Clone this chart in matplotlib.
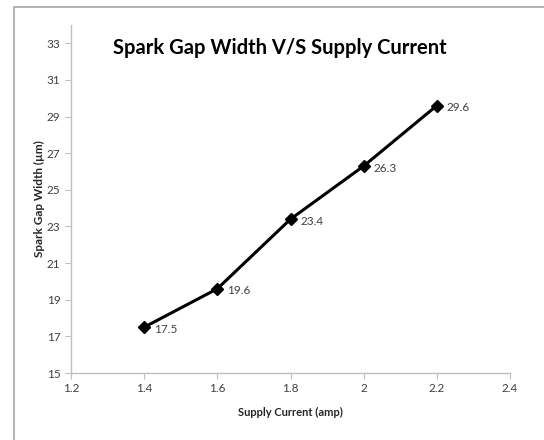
import matplotlib.pyplot as plt
from matplotlib.patches import Rectangle

# data
current = [1.4, 1.6, 1.8, 2.0, 2.2]
gap_width = [17.5, 19.6, 23.4, 26.3, 29.6]
x_ticks = [1.2, 1.4, 1.6, 1.8, 2.0, 2.2, 2.4]
x_tick_labels = ['1.2', '1.4', '1.6', '1.8', '2', '2.2', '2.4']
y_ticks = [15, 17, 19, 21, 23, 25, 27, 29, 31, 33]

plt.rcParams['font.family'] = ['Lato', 'DejaVu Sans']

fig = plt.figure(figsize=(5.44, 4.40), dpi=100)
# outer chart frame (Excel style), cut off at right/bottom
fig.patches.append(Rectangle((14 / 544, -0.1), 1.2, 1 - 7 / 440 + 0.1,
                             transform=fig.transFigure, fill=False,
                             edgecolor='#a6a6a6', linewidth=1.2))

ax = fig.add_axes([71 / 544, 1 - 373 / 440, (510 - 71) / 544, (373 - 25) / 440])
ax.plot(current, gap_width, color='black', linewidth=2.2, marker='D',
        markersize=6)
for x, y in zip(current, gap_width):
    ax.annotate(f'{y}', (x, y), xytext=(7, -1.5), textcoords='offset points',
                fontsize=8.5, color='#404040', va='center')

ax.set_xlim(1.2, 2.4)
ax.set_ylim(15, 34)
ax.set_xticks(x_ticks)
ax.set_xticklabels(x_tick_labels)
ax.set_yticks(y_ticks)
ax.tick_params(labelsize=8.5, colors='#404040', length=4, width=0.8)
ax.tick_params(axis='both', color='#bfbfbf')
for side in ['top', 'right']:
    ax.spines[side].set_visible(False)
for side in ['left', 'bottom']:
    ax.spines[side].set_color('#bfbfbf')
    ax.spines[side].set_linewidth(1)

ax.set_xlabel('Supply Current (amp)', fontsize=8, fontweight='bold',
              color='#262626', labelpad=9)
ax.set_ylabel('Spark Gap Width (µm)', fontsize=8.5, fontweight='bold',
              color='#262626', labelpad=1)
fig.text(280 / 544, 1 - 48 / 440, 'Spark Gap Width V/S Supply Current',
         ha='center', va='center', fontsize=14.5, fontweight='bold',
         color='black')

fig.savefig('out.png', dpi=100)
